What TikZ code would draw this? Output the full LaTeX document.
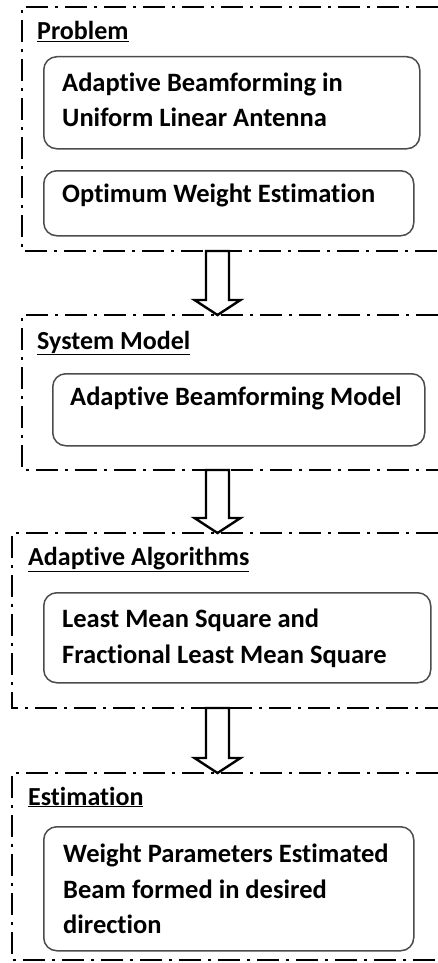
\documentclass[tikz,border=0pt]{standalone}
\usepackage{fontspec}
\setmainfont{Carlito}[Ligatures={NoCommon}]
\usetikzlibrary{calc}

\tikzset{
  groupframe/.style={draw=black, line width=2.6pt,
    dash pattern=on 22pt off 7pt on 3pt off 7pt},
  stagebox/.style={draw=black!70, line width=1.5pt, rounded corners=13pt,
    anchor=north west, inner sep=0pt},
  heading/.style={anchor=base west, inner sep=0pt,
    font=\fontsize{26}{30}\selectfont\bfseries},
  itemtext/.style={anchor=base west, inner sep=0pt,
    font=\fontsize{26.5}{31}\selectfont\bfseries},
  blockarrow/.style={draw=black, line width=2.4pt, fill=white, line join=miter}
}
\newcommand{\ulhead}[1]{\underline{#1}}

\begin{document}
\begin{tikzpicture}[x=1pt,y=-1pt]
  \useasboundingbox (0,0) rectangle (438,963);

  % corners of the dash-dot group frames (open on the right side)
  \coordinate (g1nw) at (22,7);   \coordinate (g1sw) at (22,251);
  \coordinate (g2nw) at (22,315); \coordinate (g2sw) at (22,470);
  \coordinate (g3nw) at (12,533); \coordinate (g3sw) at (12,708);
  \coordinate (g4nw) at (12,773); \coordinate (g4sw) at (12,960);
  \coordinate (edge) at (438,0);

  \foreach \g in {g1,g2,g3,g4} {
    \draw[groupframe] (\g nw -| edge) -- (\g nw) -- (\g sw) -- (\g sw -| edge);
  }

  % group headings
  \node[heading] (h1) at (37,40)  {\ulhead{Problem}};
  \node[heading] (h2) at (37,349) {\ulhead{System Model}};
  \node[heading] (h3) at (28,565) {\ulhead{Adaptive Algorithms}};
  \node[heading] (h4) at (28,805) {\ulhead{Estimation}};

  % rounded stage boxes
  \node[stagebox, minimum width=376pt, minimum height=92pt] (s1) at (43,56) {};
  \node[stagebox, minimum width=370pt, minimum height=65pt] (s2) at (43,170) {};
  \node[stagebox, minimum width=372pt, minimum height=72pt] (s3) at (52,373) {};
  \node[stagebox, minimum width=387pt, minimum height=90pt] (s4) at (43,592) {};
  \node[stagebox, minimum width=370pt, minimum height=124pt] (s5) at (43,826) {};

  % stage texts
  \node[itemtext] (t1a) at (62,92)  {Adaptive Beamforming in};
  \node[itemtext] (t1b) at (62,127) {Uniform Linear Antenna};
  \node[itemtext] (t2)  at (62,202) {Optimum Weight Estimation};
  \node[itemtext] (t3)  at (70,405) {Adaptive Beamforming Model};
  \node[itemtext] (t4a) at (62,627) {Least Mean Square and};
  \node[itemtext] (t4b) at (62,663) {Fractional Least Mean Square};
  \node[itemtext] (t5a) at (63,862) {Weight Parameters Estimated};
  \node[itemtext] (t5b) at (63,898) {Beam formed in desired};
  \node[itemtext] (t5c) at (63,933) {direction};

  % hollow block arrows between the groups
  \coordinate (ax) at (217.5,0);
  \foreach \from/\to in {g1sw/g2nw, g2sw/g3nw, g3sw/g4nw} {
    \coordinate (top) at (\from -| ax);
    \coordinate (tip) at (\to -| ax);
    \draw[blockarrow]
      ($(top)+(-11.5,0)$) -- ($(top)+(11.5,0)$) -- ($(tip)+(11.5,-15)$)
      -- ($(tip)+(23,-15)$) -- (tip) -- ($(tip)+(-23,-15)$)
      -- ($(tip)+(-11.5,-15)$) -- cycle;
  }
\end{tikzpicture}
\end{document}
